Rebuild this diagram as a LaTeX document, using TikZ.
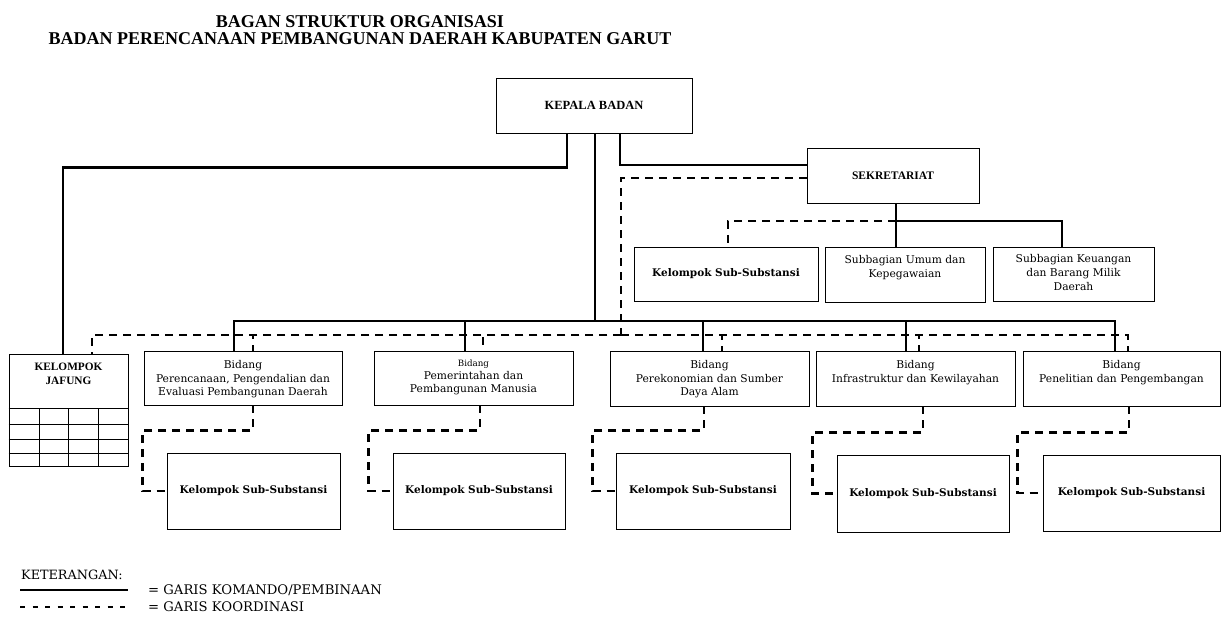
\documentclass[tikz,border=0pt]{standalone}
\usepackage{fontspec}
\setmainfont{DejaVu Serif}
\newfontfamily\judulfont{Liberation Serif}
\usetikzlibrary{positioning}

\tikzset{
  kotak/.style={rectangle, draw, line width=0.8pt, inner sep=0pt},
  isi/.style={align=center, inner sep=0pt, font=\fontsize{10.7}{13.2}\selectfont},
  kapital/.style={align=center, inner sep=0pt, font=\judulfont\bfseries\fontsize{11.3}{14}\selectfont},
  subst/.style={font=\bfseries\fontsize{10.5}{12}\selectfont},
  komando/.style={line width=2.5pt},
  koordinasi/.style={line width=2.5pt, dash pattern=on 8pt off 6pt},
}

\begin{document}
\begin{tikzpicture}[x=1pt, y=-1pt]
    \useasboundingbox (0,0) rectangle (1222,620);
        %% Judul
    	\node[align=center, font=\judulfont\bfseries\fontsize{18}{17.5}\selectfont] (judul) at (360,30) {BAGAN STRUKTUR ORGANISASI\\BADAN PERENCANAAN PEMBANGUNAN DAERAH KABUPATEN GARUT};

        %% Pimpinan dan sekretariat
    	\node[kotak, minimum width=196pt, minimum height=55pt, font=\judulfont\bfseries\fontsize{12.5}{14}\selectfont] (kepala) at (594,105.5) {KEPALA BADAN};
    	\node[kotak, minimum width=172pt, minimum height=55pt, font=\judulfont\bfseries\fontsize{11.5}{14}\selectfont] (sek) at (893,175.5) {SEKRETARIAT};

    	\node[kotak, subst, minimum width=184pt, minimum height=54pt] (kss) at (726,274) {Kelompok Sub-Substansi};
    	\node[kotak, minimum width=160pt, minimum height=55pt] (umum) at (905,274.5) {};
    	\node[isi, below=9pt of umum.north] (tumum) {Subbagian Umum dan\\Kepegawaian};
    	\node[kotak, minimum width=161pt, minimum height=54pt] (keu) at (1073.5,274) {};
    	\node[isi, below=8pt of keu.north, font=\fontsize{10.7}{13.8}\selectfont] (tkeu) {Subbagian Keuangan\\dan Barang Milik\\Daerah};

        %% Kelompok jabatan fungsional
    	\node[kotak, minimum width=119pt, minimum height=112pt] (jafung) at (68.5,410) {};
    	\node[kapital, below=9pt of jafung.north] (tjafung) {KELOMPOK\\JAFUNG};
    	\draw[line width=0.8pt] (jafung.west |- 0,408) -- (jafung.east |- 0,408);
    	\draw[line width=0.8pt] (jafung.west |- 0,424) -- (jafung.east |- 0,424);
    	\draw[line width=0.8pt] (jafung.west |- 0,439) -- (jafung.east |- 0,439);
    	\draw[line width=0.8pt] (jafung.west |- 0,453) -- (jafung.east |- 0,453);
    	\draw[line width=0.8pt] (39,408) -- (jafung.south -| 39,0);
    	\draw[line width=0.8pt] (68,408) -- (jafung.south -| 68,0);
    	\draw[line width=0.8pt] (98,408) -- (jafung.south -| 98,0);

        %% Bidang
    	\node[kotak, minimum width=198pt, minimum height=54pt] (bid1) at (243,378) {};
    	\node[isi, below=10pt of bid1.north] (tbid1) {Bidang\\Perencanaan, Pengendalian dan\\Evaluasi Pembangunan Daerah};
    	\node[kotak, minimum width=199pt, minimum height=54pt] (bid2) at (473.5,378) {};
    	\node[isi, below=9pt of bid2.north] (tbid2) {{\fontsize{8.7}{13.2}\selectfont Bidang}\\Pemerintahan dan\\Pembangunan Manusia};
    	\node[kotak, minimum width=199pt, minimum height=55pt] (bid3) at (709.5,378.5) {};
    	\node[isi, below=10pt of bid3.north] (tbid3) {Bidang\\Perekonomian dan Sumber\\Daya Alam};
    	\node[kotak, minimum width=199pt, minimum height=55pt] (bid4) at (915.5,378.5) {};
    	\node[isi, below=10pt of bid4.north] (tbid4) {Bidang\\Infrastruktur dan Kewilayahan};
    	\node[kotak, minimum width=197pt, minimum height=55pt] (bid5) at (1121.5,378.5) {};
    	\node[isi, below=10pt of bid5.north] (tbid5) {Bidang\\Penelitian dan Pengembangan};

        %% Kelompok sub-substansi
    	\node[kotak, subst, minimum width=173pt, minimum height=76pt] (kel1) at (253.5,491) {Kelompok Sub-Substansi};
    	\node[kotak, subst, minimum width=172pt, minimum height=76pt] (kel2) at (479,491) {Kelompok Sub-Substansi};
    	\node[kotak, subst, minimum width=174pt, minimum height=76pt] (kel3) at (703,491) {Kelompok Sub-Substansi};
    	\node[kotak, subst, minimum width=172pt, minimum height=77pt] (kel4) at (923,493.5) {Kelompok Sub-Substansi};
    	\node[kotak, subst, minimum width=177pt, minimum height=76pt] (kel5) at (1131.5,493) {Kelompok Sub-Substansi};

        %% Garis komando
    	\coordinate (busA) at (595,321);
    	\coordinate (subbus) at (896,221);
    	\draw[komando] ([xshift=-27pt]kepala.south) -- ++(0,34) -| ([xshift=-5.5pt]jafung.north);
    	\draw[komando] ([xshift=26pt]kepala.south) |- ([yshift=10.5pt]sek.west);
    	\draw[komando] (kepala.south -| busA) -- (busA);
    	\draw[komando] (busA) -| ([xshift=-9pt]bid1.north);
    	\draw[komando] (busA) -| ([xshift=-8.5pt]bid2.north);
    	\draw[komando] (busA) -| ([xshift=-6.5pt]bid3.north);
    	\draw[komando] (busA) -| ([xshift=-9.5pt]bid4.north);
    	\draw[komando] (busA) -| ([xshift=-6.5pt]bid5.north);
    	\draw[komando] (sek.south -| subbus) -- (subbus |- umum.north);
    	\draw[komando] (subbus) -| ([xshift=-11.5pt]keu.north);

        %% Garis koordinasi
    	\coordinate (busB) at (621,335);
    	\draw[koordinasi] ([yshift=-2.5pt]sek.west) -| (busB);
    	\draw[koordinasi] (subbus) -| ([xshift=2pt]kss.north);
    	\draw[koordinasi] (busB) -| ([xshift=23.5pt]jafung.north);
    	\draw[koordinasi] (busB) -| ([xshift=10pt]bid1.north);
    	\draw[koordinasi] (busB) -| ([xshift=9.5pt]bid2.north);
    	\draw[koordinasi] (busB) -| ([xshift=12.5pt]bid3.north);
    	\draw[koordinasi] (busB) -| ([xshift=3.5pt]bid4.north);
    	\draw[koordinasi] (busB) -| ([xshift=6.5pt]bid5.north);

    	\draw[koordinasi] ([xshift=10pt]bid1.south) -- ++(0,25) -| ([xshift=-24pt]kel1.west) -- (kel1.west);
    	\draw[koordinasi] ([xshift=6.5pt]bid2.south) -- ++(0,25) -| ([xshift=-24pt]kel2.west) -- (kel2.west);
    	\draw[koordinasi] ([xshift=-5.5pt]bid3.south) -- ++(0,24) -| ([xshift=-23pt]kel3.west) -- (kel3.west);
    	\draw[koordinasi] ([xshift=7.5pt]bid4.south) -- ++(0,26) -| ([xshift=-24pt]kel4.west) -- (kel4.west);
    	\draw[koordinasi] ([xshift=7.5pt]bid5.south) -- ++(0,26) -| ([xshift=-25pt]kel5.west) -- (kel5.west);

        %% Keterangan
    	\node[anchor=west, inner sep=0pt, font=\fontsize{12.8}{14}\selectfont] (ket) at (21,575) {KETERANGAN:};
    	\coordinate (lk1) at (20,590);
    	\coordinate (lk2) at (128,590);
    	\coordinate (lr1) at (20,607);
    	\coordinate (lr2) at (125,607);
    	\draw[line width=1.8pt] (lk1) -- (lk2);
    	\draw[line width=1.4pt, dash pattern=on 5pt off 7.5pt] (lr1) -- (lr2);
    	\node[right=20pt of lk2, inner sep=0pt, font=\fontsize{13.2}{14}\selectfont] (tkomando) {= GARIS KOMANDO/PEMBINAAN};
    	\node[right=23pt of lr2, inner sep=0pt, font=\fontsize{13.2}{14}\selectfont] (tkoordinasi) {= GARIS KOORDINASI};
\end{tikzpicture}
\end{document}
